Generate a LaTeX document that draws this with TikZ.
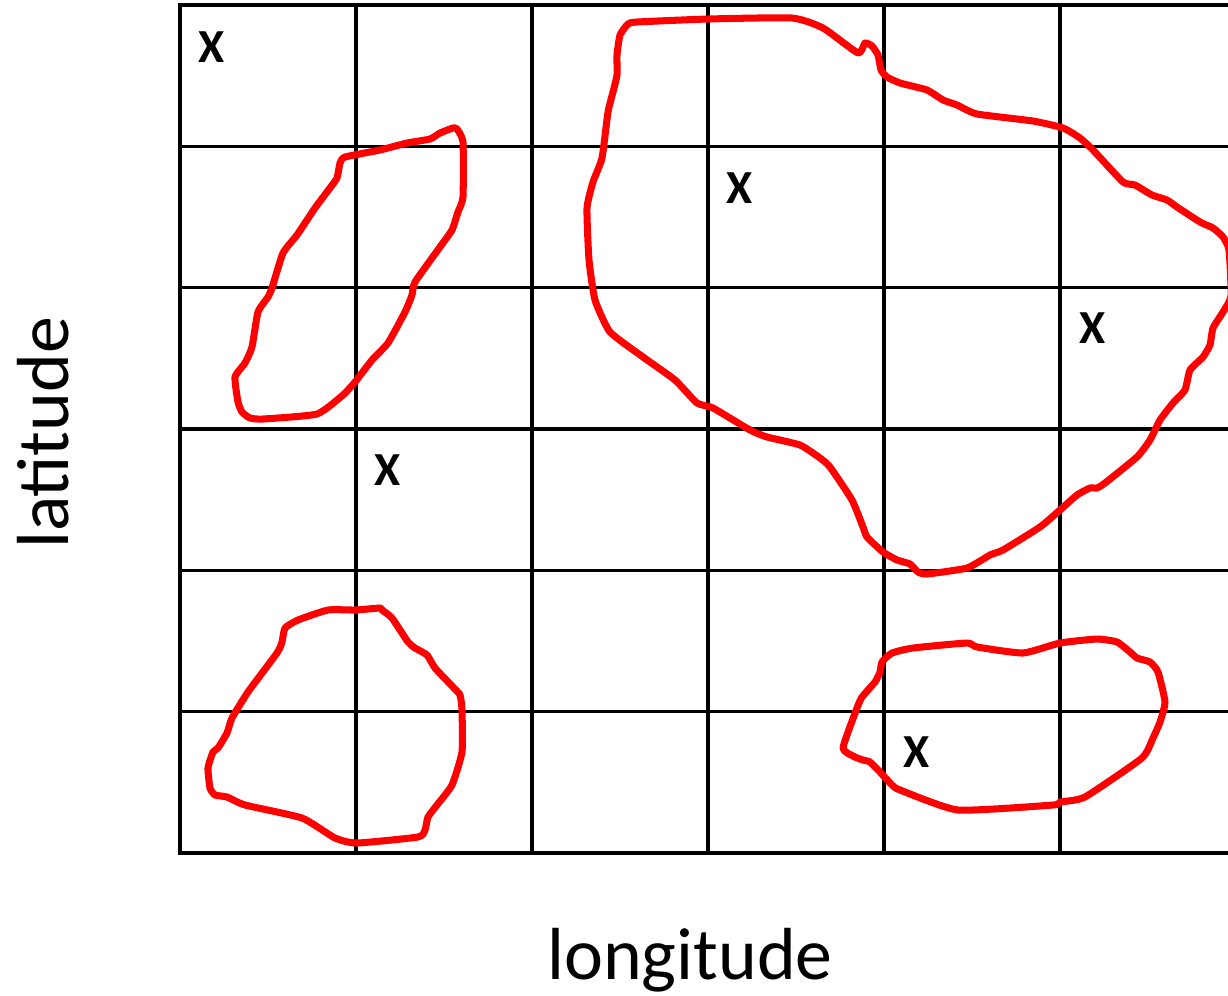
\documentclass[tikz,border=0pt]{standalone}
\usepackage{fontspec}
\setmainfont{Carlito}

\begin{document}
\begin{tikzpicture}[x=0.02cm, y=-0.02cm,
	every node/.style={inner sep=0pt},
	cellline/.style={black, line width=1.9pt, line cap=rect},
	region/.style={red, line width=4pt, line join=round, line cap=round},
	hit/.style={font=\fontsize{27}{30}\selectfont\bfseries},
	axislabel/.style={font=\fontsize{42}{48}\selectfont}]
	\useasboundingbox (0,0) rectangle (1228,995);
	\begin{scope}
		\clip (0,0) rectangle (1228,995);
		\foreach \i in {0,...,5} {\draw[cellline] (180+176*\i,5) -- (180+176*\i,853);}
		\foreach \j in {0,...,6} {\draw[cellline] (180,5+141.33*\j) -- (1240,5+141.33*\j);}
		\draw[region] plot[smooth cycle, tension=0.3] coordinates {(345,157) (380,150) (407,143) (430,139) (440,133) (453,128) (457,129) (463,142) (463,197) (458,212) (452,230) (440,247) (415,282) (412,295) (405,312) (388,343) (372,360) (355,382) (343,395) (317,414) (263,419) (250,418) (242,412) (238,402) (235,377) (245,363) (252,347) (258,312) (268,297) (272,288) (283,253) (297,235) (315,208) (330,188) (337,178) (340,163)};
		\draw[region] plot[smooth cycle, tension=0.3] coordinates {(628,24) (637,22) (708,19) (792,18) (823,28) (858,53) (865,43) (872,46) (878,55) (881,70) (887,77) (900,83) (927,90) (943,100) (957,105) (977,114) (1033,121) (1063,128) (1080,138) (1093,150) (1123,182) (1135,185) (1152,195) (1167,200) (1177,207) (1200,222) (1213,228) (1223,237) (1229,250) (1231,296) (1223,312) (1213,328) (1210,345) (1203,357) (1190,370) (1185,390) (1173,403) (1160,420) (1150,440) (1137,457) (1105,483) (1097,488) (1090,488) (1077,495) (1060,510) (1040,527) (1003,550) (990,555) (967,568) (927,574) (918,572) (910,564) (897,560) (883,552) (867,537) (863,527) (852,500) (830,467) (820,458) (800,445) (767,437) (750,430) (713,408) (697,403) (675,380) (643,357) (610,332) (595,300) (589,260) (587,208) (593,182) (602,158) (608,112) (613,92) (617,75) (617,55) (620,35)};
		\draw[region] plot[smooth cycle, tension=0.3] coordinates {(380,608) (355,610) (328,610) (298,620) (285,628) (282,642) (277,653) (248,692) (232,718) (227,733) (218,748) (213,752) (208,768) (210,788) (215,795) (227,797) (245,805) (302,818) (335,838) (357,843) (418,837) (425,830) (428,817) (437,805) (452,785) (462,752) (462,710) (460,695) (453,687) (435,668) (427,655) (415,648) (408,642) (392,618) (382,610)};
		\draw[region] plot[smooth cycle, tension=0.3] coordinates {(843,748) (857,708) (862,697) (875,682) (880,672) (882,662) (892,653) (913,648) (967,643) (977,647) (1023,653) (1060,643) (1097,639) (1117,642) (1130,652) (1137,658) (1150,662) (1158,672) (1165,702) (1160,722) (1153,738) (1142,758) (1085,797) (1060,802) (1053,805) (958,810) (900,790) (892,785) (880,772) (870,762) (863,760) (855,757)};
	\end{scope}
	\node[hit] (x1) at (212,47) {X};
	\node[hit] (x2) at (740,188) {X};
	\node[hit] (x3) at (388,470) {X};
	\node[hit] (x4) at (1093,328) {X};
	\node[hit] (x5) at (917,752) {X};
	\node[axislabel, rotate=90, anchor=base] (lat) at (68,433) {latitude};
	\node[axislabel, anchor=base] (lon) at (690,979) {longitude};
\end{tikzpicture}
\end{document}
